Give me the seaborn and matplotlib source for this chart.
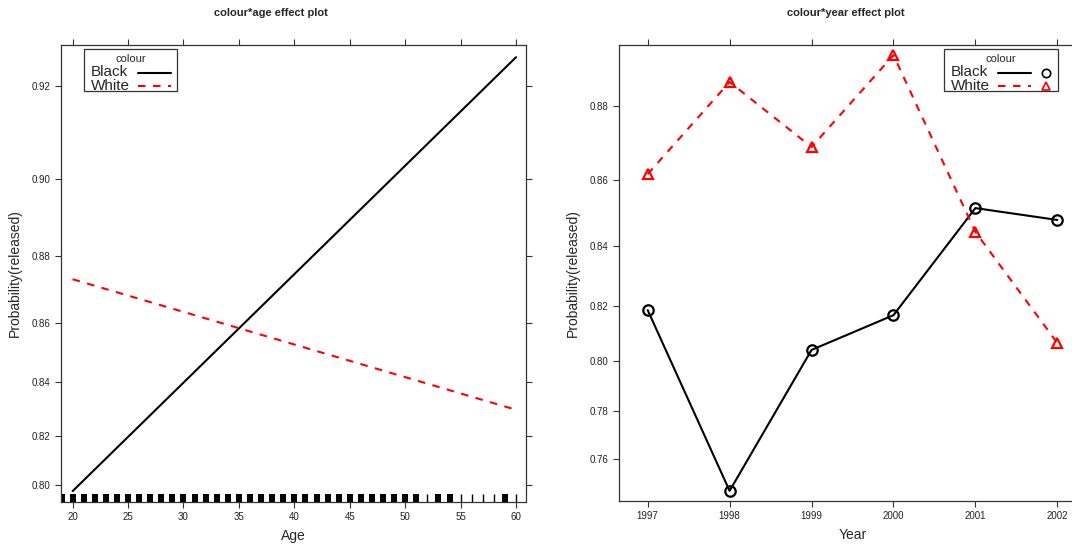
import matplotlib
matplotlib.use("Agg")
import matplotlib.pyplot as plt
from matplotlib.ticker import FixedLocator, FormatStrFormatter, NullLocator
from matplotlib.lines import Line2D
from matplotlib.patches import Rectangle
import seaborn as sns
import pandas as pd

# ---- effect estimates -------------------------------------------------------
colours = ["Black", "White"]

ages = [20, 60]
age_prob_black = [0.7974, 0.9255]
age_prob_white = [0.8734, 0.8300]

years = [1997, 1998, 1999, 2000, 2001, 2002]
year_prob_black = [0.8186, 0.7459, 0.8041, 0.8168, 0.8519, 0.8483]
year_prob_white = [0.8618, 0.8859, 0.8693, 0.8922, 0.8446, 0.8067]

# observed ages shown as a rug (heavy = many cases, light = few)
rug_ages_heavy = [19, 20, 21, 22, 23, 24, 25, 26, 27, 28, 29, 30, 31, 32, 33,
                  34, 35, 36, 37, 38, 39, 40, 41, 42, 43, 44, 45, 46, 47, 48,
                  49, 50, 51, 53, 54, 59]
rug_ages_light = [52, 55, 56, 57, 58, 60]

age_ticks = [20, 25, 30, 35, 40, 45, 50, 55, 60]
age_yticks = [0.80, 0.82, 0.84, 0.86, 0.88, 0.90, 0.92]
year_yticks = [0.76, 0.78, 0.80, 0.82, 0.84, 0.86, 0.88]

age_df = pd.DataFrame({
    "age": ages * 2,
    "prob": age_prob_black + age_prob_white,
    "colour": [colours[0]] * len(ages) + [colours[1]] * len(ages),
})
year_df = pd.DataFrame({
    "year": years * 2,
    "prob": year_prob_black + year_prob_white,
    "colour": [colours[0]] * len(years) + [colours[1]] * len(years),
})

# ---- styling ----------------------------------------------------------------
sns.set_theme(style="white")
plt.rcParams["font.family"] = ["Liberation Sans", "DejaVu Sans"]
plt.rcParams["axes.edgecolor"] = "#333333"

line_colour = {"Black": "black", "White": "red"}
line_style = {"Black": "-", "White": (0, (3.6, 3.6))}
point_marker = {"Black": "o", "White": "^"}
LW = 1.5

W, H = 1072, 545
fig = plt.figure(figsize=(W / 100, H / 100), dpi=100)
ax1 = fig.add_axes([61 / W, 43 / H, 465 / W, 457 / H])
ax2 = fig.add_axes([619 / W, 44 / H, 467 / W, 456 / H])


def px(x, y):
    """Pixel position (from the top-left corner) to figure fraction."""
    return x / W, 1 - y / H


def frame(ax):
    ax.set_yscale("logit")
    for s in ax.spines.values():
        s.set_visible(True)
        s.set_linewidth(0.9)
        s.set_color("#333333")
    ax.tick_params(which="major", direction="out", length=4.5, width=0.8,
                   color="#333333", labelsize=7, labelcolor="#222222",
                   top=True, right=True, labeltop=False, labelright=False,
                   bottom=True, left=True, pad=3)
    ax.yaxis.set_minor_locator(NullLocator())
    ax.grid(False)


def draw_key(box, title_x, text_x, line_x, marker_x=None):
    """Lattice-style key: framed box, title, label text then line sample."""
    x0, y0, x1, y1 = box
    fx0, fy1 = px(x0, y1)
    fx1, fy0 = px(x1, y0)
    fig.add_artist(Rectangle((fx0, fy1), fx1 - fx0, fy0 - fy1,
                             transform=fig.transFigure, fill=True,
                             facecolor="white", edgecolor="#333333", lw=0.9,
                             zorder=5))
    fig.text(*px(title_x, y0 + 9.5), "colour", ha="center", va="center",
             fontsize=8, zorder=6)
    for c, y in zip(colours, [y0 + 23.5, y0 + 36.5]):
        fig.text(*px(text_x, y), c, ha="left", va="center", fontsize=11,
                 zorder=6)
        (a, yy), (b, _) = px(line_x[0], y), px(line_x[1], y)
        fig.add_artist(Line2D([a, b], [yy, yy], transform=fig.transFigure,
                              color=line_colour[c], linestyle=line_style[c],
                              lw=LW, zorder=6))
        if marker_x is not None:
            mx, my = px(marker_x, y)
            fig.add_artist(Line2D([mx], [my], transform=fig.transFigure,
                                  lw=0, marker=point_marker[c], markersize=6,
                                  markerfacecolor="none",
                                  markeredgecolor=line_colour[c],
                                  markeredgewidth=1.2, zorder=6))


# ---- left panel: age --------------------------------------------------------
for c in colours:
    sub = age_df[age_df["colour"] == c]
    sns.lineplot(data=sub, x="age", y="prob", ax=ax1, color=line_colour[c],
                 linestyle=line_style[c], linewidth=LW, legend=False)

sns.rugplot(x=rug_ages_heavy, ax=ax1, height=0.018, color="black",
            linewidth=4.3, expand_margins=False)
sns.rugplot(x=rug_ages_light, ax=ax1, height=0.018, color="black",
            linewidth=1.0, expand_margins=False)

frame(ax1)
ax1.set_xlim(18.95, 60.9)
ax1.set_ylim(0.7927, 0.9277)
ax1.xaxis.set_major_locator(FixedLocator(age_ticks))
ax1.yaxis.set_major_locator(FixedLocator(age_yticks))
ax1.yaxis.set_major_formatter(FormatStrFormatter("%.2f"))
ax1.xaxis.set_major_formatter(FormatStrFormatter("%d"))
ax1.set_xlabel("Age", fontsize=10)
ax1.set_ylabel("Probability(released)", fontsize=10)
ax1.xaxis.set_label_coords(0.5, -0.06)
ax1.yaxis.set_label_coords(-0.084, 0.5)

draw_key((84, 49, 177, 91), title_x=131, text_x=91, line_x=(138, 171))

# ---- right panel: year ------------------------------------------------------
for c in colours:
    sub = year_df[year_df["colour"] == c]
    sns.lineplot(data=sub, x="year", y="prob", ax=ax2, color=line_colour[c],
                 linestyle=line_style[c], linewidth=LW, marker=point_marker[c],
                 markersize=7.5, markerfacecolor="none",
                 markeredgecolor=line_colour[c], markeredgewidth=1.6,
                 legend=False)

frame(ax2)
ax2.set_xlim(1996.65, 2002.35)
ax2.set_ylim(0.7413, 0.8945)
ax2.xaxis.set_major_locator(FixedLocator(years))
ax2.xaxis.set_major_formatter(FormatStrFormatter("%d"))
ax2.yaxis.set_major_locator(FixedLocator(year_yticks))
ax2.yaxis.set_major_formatter(FormatStrFormatter("%.2f"))
ax2.set_xlabel("Year", fontsize=10)
ax2.set_ylabel("Probability(released)", fontsize=10)
ax2.xaxis.set_label_coords(0.5, -0.06)
ax2.yaxis.set_label_coords(-0.0835, 0.5)

draw_key((944, 49, 1058, 91), title_x=1001, text_x=951, line_x=(998, 1031),
         marker_x=1046)

# ---- panel titles -----------------------------------------------------------
fig.text(*px(271, 13), "colour*age effect plot", ha="center", va="center",
         fontsize=8, fontweight="bold")
fig.text(*px(846, 13), "colour*year effect plot", ha="center", va="center",
         fontsize=8, fontweight="bold")

fig.savefig("out.png", dpi=100)
